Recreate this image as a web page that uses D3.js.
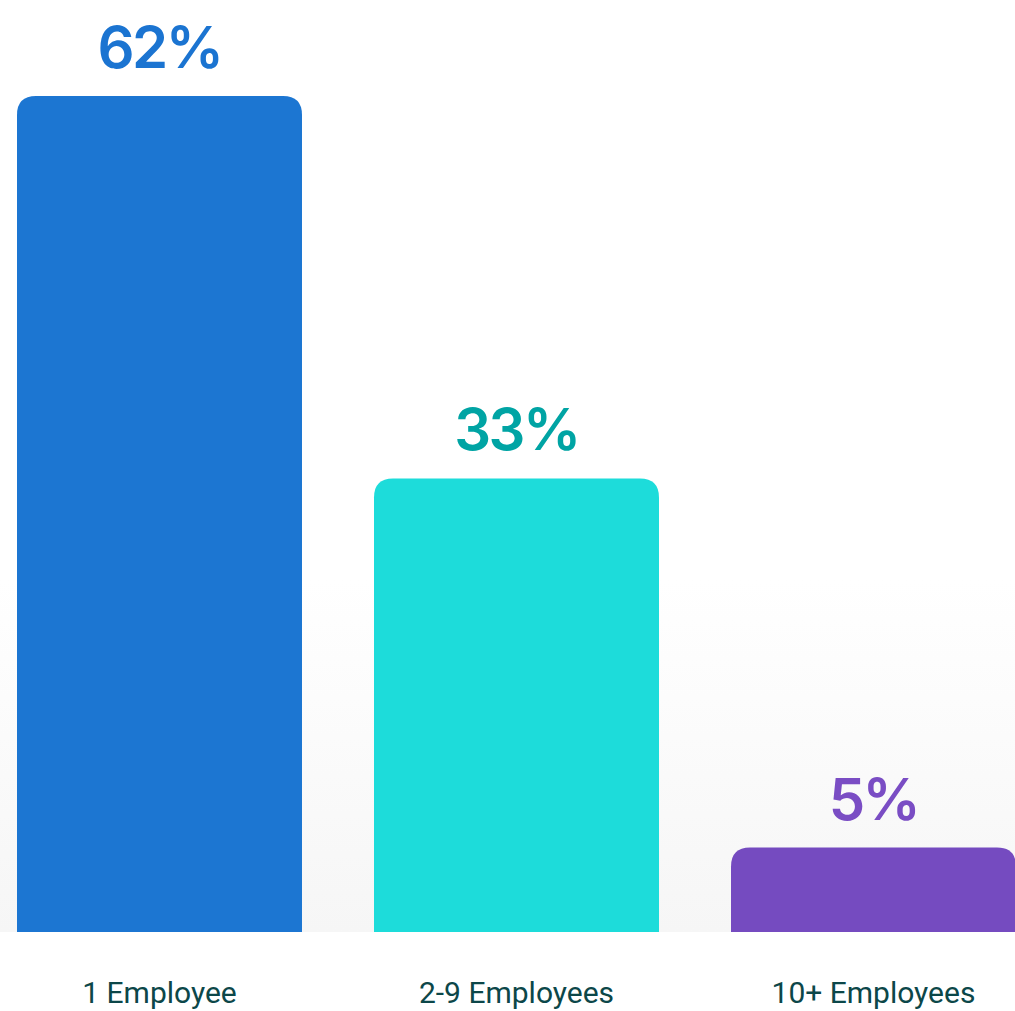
<!DOCTYPE html>
<html>
<head>
<meta charset="utf-8">
<script src="https://cdn.jsdelivr.net/npm/d3@7/dist/d3.min.js"></script>
<style>
  html, body { margin: 0; padding: 0; background: #ffffff; overflow: hidden; }
  svg { display: block; }
</style>
</head>
<body>
<svg id="chart" width="1015" height="1011"></svg>
<script>
// Share of businesses by team size
const categories = ["1 Employee", "2-9 Employees", "10+ Employees"];
const values = [62, 33, 5];
const valueLabels = ["62%", "33%", "5%"];
const barColors = ["#1c76d2", "#1ddcda", "#754bc0"];
const labelColors = ["#1b74d1", "#00a4a4", "#7a4dc4"];

const W = 1015, H = 1011;
const baseline = 932;
const svg = d3.select("#chart");

// soft grey floor behind the lower part of the bars
const defs = svg.append("defs");
const grad = defs.append("linearGradient")
  .attr("id", "floor").attr("x1", 0).attr("y1", 0).attr("x2", 0).attr("y2", 1);
grad.append("stop").attr("offset", "0%").attr("stop-color", "#ffffff");
grad.append("stop").attr("offset", "100%").attr("stop-color", "#f6f6f6");
svg.append("rect")
  .attr("x", 0).attr("y", 580).attr("width", W).attr("height", baseline - 580)
  .attr("fill", "url(#floor)");

const x = d3.scaleBand()
  .domain(categories)
  .range([17, 1016])
  .paddingInner(0.2017)
  .paddingOuter(0);

const y = d3.scaleLinear()
  .domain([-1.4, 62])
  .range([baseline, 96]);

// bar with rounded top corners
function topRounded(x0, y0, w, h, r) {
  r = Math.min(r, h, w / 2);
  return `M${x0},${y0 + h}` +
    `V${y0 + r}` +
    `Q${x0},${y0} ${x0 + r},${y0}` +
    `H${x0 + w - r}` +
    `Q${x0 + w},${y0} ${x0 + w},${y0 + r}` +
    `V${y0 + h}Z`;
}

const data = categories.map((c, i) => ({
  cat: c, value: values[i], label: valueLabels[i],
  color: barColors[i], labelColor: labelColors[i]
}));

svg.append("g").selectAll("path")
  .data(data)
  .join("path")
  .attr("d", d => topRounded(x(d.cat), y(d.value), x.bandwidth(), baseline - y(d.value), 19))
  .attr("fill", d => d.color);

// value labels above bars
svg.append("g").selectAll("text")
  .data(data)
  .join("text")
  .attr("x", d => x(d.cat) + x.bandwidth() / 2)
  .attr("y", d => y(d.value) - 28)
  .attr("text-anchor", "middle")
  .attr("font-family", "Inter, 'Noto Sans', sans-serif")
  .attr("font-weight", 600)
  .attr("font-size", 58)
  .attr("letter-spacing", "-2.5px")
  .attr("fill", d => d.labelColor)
  .text(d => d.label);

// category axis labels
svg.append("g").selectAll("text")
  .data(data)
  .join("text")
  .attr("x", d => x(d.cat) + x.bandwidth() / 2)
  .attr("y", 1003)
  .attr("text-anchor", "middle")
  .attr("font-family", "Roboto, 'Noto Sans', sans-serif")
  .attr("font-weight", 400)
  .attr("font-size", 30)
  .attr("fill", "#0c4749")
  .text(d => d.cat);
</script>
</body>
</html>
